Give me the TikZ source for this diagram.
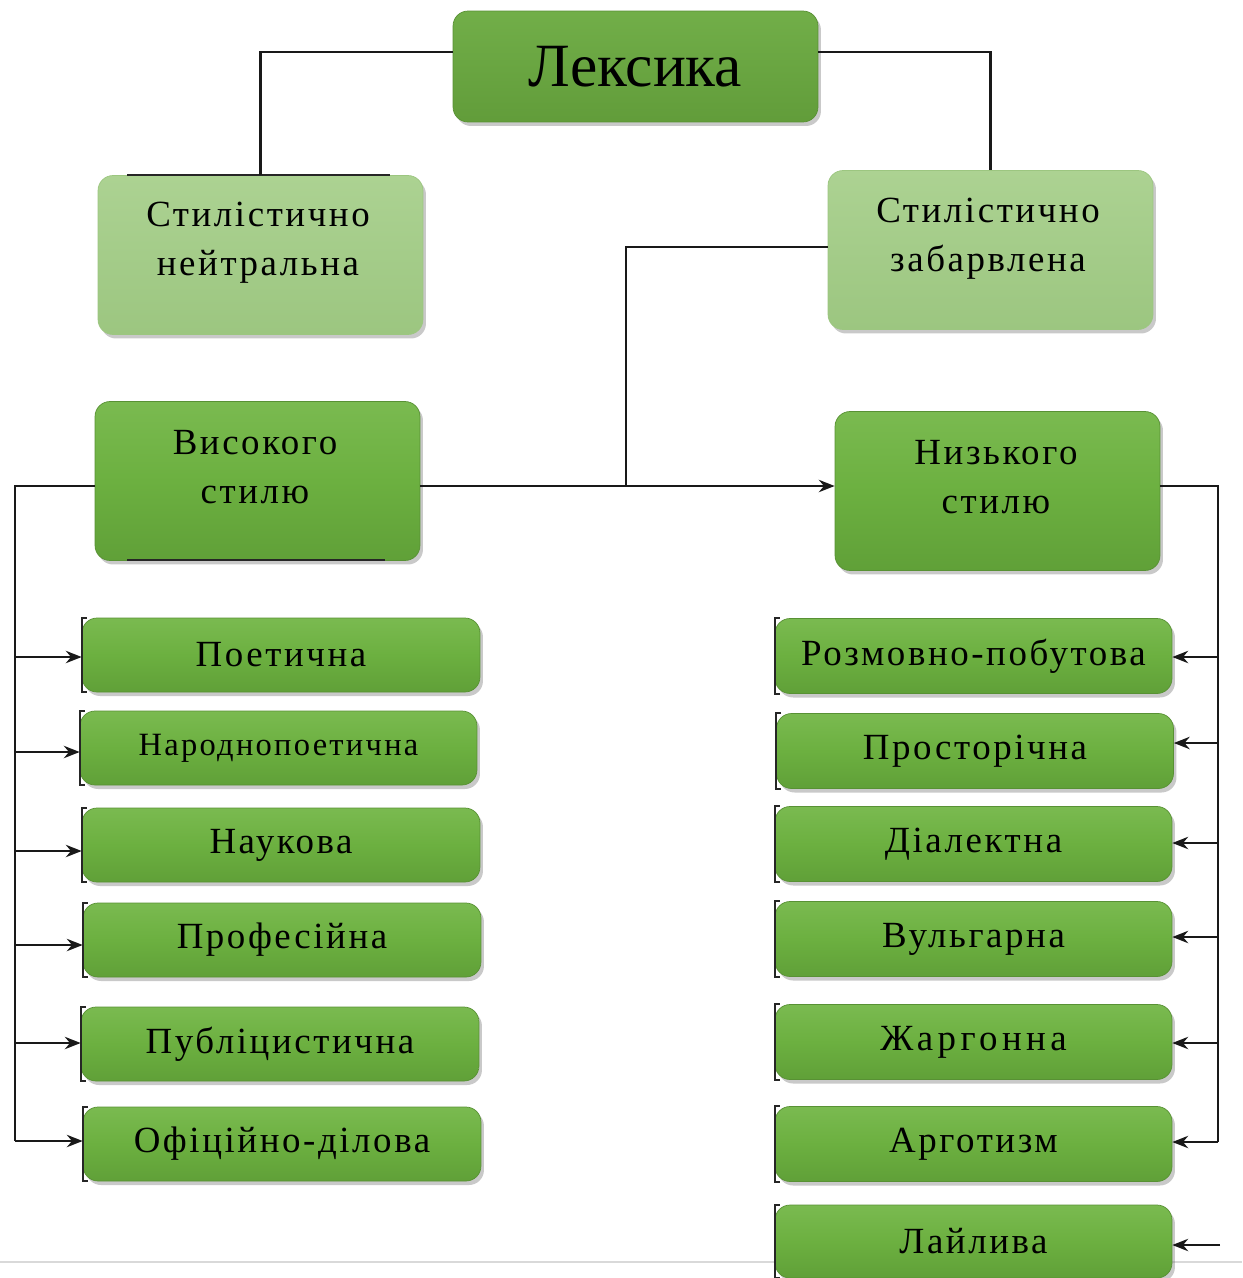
\documentclass[tikz,border=0pt]{standalone}
\usepackage{fontspec}
\setmainfont{Liberation Serif}
\newfontfamily\boxfont[LetterSpace=7]{Liberation Serif}
\newfontfamily\boxwidefont[LetterSpace=12]{Liberation Serif}
\usetikzlibrary{arrows.meta,shadows,calc}

\definecolor{topgreen}{RGB}{122,186,80}
\definecolor{midgreen}{RGB}{108,176,64}
\definecolor{lowgreen}{RGB}{96,160,56}
\definecolor{edgegreen}{RGB}{88,145,52}
\definecolor{palegreen}{RGB}{172,210,146}
\definecolor{palelow}{RGB}{156,198,128}
\definecolor{rootgreen}{RGB}{106,170,63}

\tikzset{
  x=0.02cm, y=-0.02cm,
  boxbase/.style={rounded corners=0.3cm, draw=edgegreen, line width=0.4pt,
    drop shadow={shadow xshift=0.06cm, shadow yshift=-0.08cm, opacity=0.35, fill=black!60},
    inner sep=0pt, text=black},
  greenbox/.style={boxbase, top color=topgreen, bottom color=lowgreen, middle color=midgreen},
  palebox/.style={boxbase, top color=palegreen, bottom color=palelow, draw=palelow},
  itemleft/.style={greenbox, minimum width=7.96cm, minimum height=1.48cm,
    font=\boxfont\fontsize{21}{24}\selectfont},
  itemright/.style={greenbox, minimum width=7.94cm, minimum height=1.5cm,
    font=\boxfont\fontsize{21}{24}\selectfont},
  bigbox/.style={minimum width=6.5cm, minimum height=3.18cm},
  labeltext/.style={font=\boxfont\fontsize{21}{28}\selectfont, align=center, inner sep=0pt},
  wire/.style={line width=1.4pt, black!90},
  arrowwire/.style={wire, -{Stealth[length=9pt,width=7pt]}},
  bracket/.style={line width=1.2pt, black!85},
}

\begin{document}
\begin{tikzpicture}
\useasboundingbox (0,0) rectangle (1242,1278);
\fill[white] (0,0) rectangle (1242,1278);

% page edge line at the bottom
\draw[black!15, line width=1pt] (0,1262) -- (1242,1262);

% root
\node[boxbase, top color=rootgreen!95!white, bottom color=rootgreen!92!black,
      minimum width=7.3cm, minimum height=2.22cm,
      font=\fontsize{35}{40}\selectfont] (lex) at (635.5,66.5) {Лексика};

% second level
\node[palebox, bigbox] (neu) at (260.5,255) {};
\node[labeltext] (neutext) at (258,243) {Стилістично\\нейтральна};
\node[palebox, bigbox] (zab) at (990.5,250) {};
\node[labeltext] (zabtext) at (988,239) {Стилістично\\забарвлена};

% third level
\node[greenbox, bigbox] (vys) at (257.5,481) {};
\node[labeltext] (vystext) at (255,467) {Високого\\стилю};
\node[greenbox, bigbox] (niz) at (997.5,491) {};
\node[labeltext] (niztext) at (996,477) {Низького\\стилю};

% left column
\node[itemleft] (l1) at (281,655) {Поетична};
\node[itemleft, minimum width=7.94cm, font=\boxfont\fontsize{18.5}{22}\selectfont]
  (l2) at (278.5,748) {Народнопоетична};
\node[itemleft] (l3) at (281,845) {Наукова};
\node[itemleft] (l4) at (282,940) {Професійна};
\node[itemleft] (l5) at (280,1044) {Публіцистична};
\node[itemleft] (l6) at (282,1144) {Офіційно-ділова};

% right column
\node[itemright] (r1) at (973.5,656) {Розмовно-побутова};
\node[itemright] (r2) at (975,751) {Просторічна};
\node[itemright] (r3) at (973.5,844) {Діалектна};
\node[itemright] (r4) at (973.5,939) {Вульгарна};
\node[itemright, font=\boxwidefont\fontsize{21}{24}\selectfont] (r5) at (973.5,1042) {Жаргонна};
\node[itemright] (r6) at (973.5,1144) {Арготизм};
\node[itemright, minimum height=1.46cm] (r7) at (973.5,1241.5) {Лайлива};

% dark edge marks on the boxes
\draw[bracket] (127,175) -- (390,175);
\draw[bracket] (127,560) -- (385,560);
\foreach \b in {l1,l2,l3,l4,l5,l6,r1,r2,r3,r4,r5,r6,r7}{
  \draw[bracket] ([xshift=0.1cm]\b.north west) -- (\b.north west)
                 -- (\b.south west) -- ([xshift=0.1cm]\b.south west);
}

% connectors from the root
\coordinate (lexL) at (lex.west |- 0,52);
\coordinate (lexR) at (lex.east |- 0,52);
\draw[wire] (lexL) -| (neu.north);
\draw[wire] (lexR) -| (zab.north);

% from the coloured branch to both styles
\coordinate (split) at (626,486);
\draw[wire] (zab.west |- 0,247) -| (split);
\draw[wire] (vys.east |- split) -- (split);
\draw[arrowwire] (split) -- (niz.west |- split);

% left bus
\coordinate (lbusTop) at (15,486);
\coordinate (lbusBot) at (15,1141);
\draw[wire] (vys.west |- lbusTop) -- (lbusTop) -- (lbusBot);
\foreach \b/\yy in {l1/657,l2/752,l3/851,l4/945,l5/1043,l6/1141}{
  \draw[arrowwire] (15,\yy) -- (\b.west |- 0,\yy);
}

% right bus
\coordinate (rbusTop) at (1218,486);
\coordinate (rbusBot) at (1218,1142);
\draw[wire] (niz.east |- rbusTop) -- (rbusTop) -- (rbusBot);
\foreach \b/\yy in {r1/657,r2/743,r3/843,r4/937,r5/1043,r6/1142}{
  \draw[arrowwire] (1218,\yy) -- (\b.east |- 0,\yy);
}
\coordinate (lastend) at (1220,1245);
\draw[arrowwire] (lastend) -- (r7.east |- lastend);
\end{tikzpicture}
\end{document}
